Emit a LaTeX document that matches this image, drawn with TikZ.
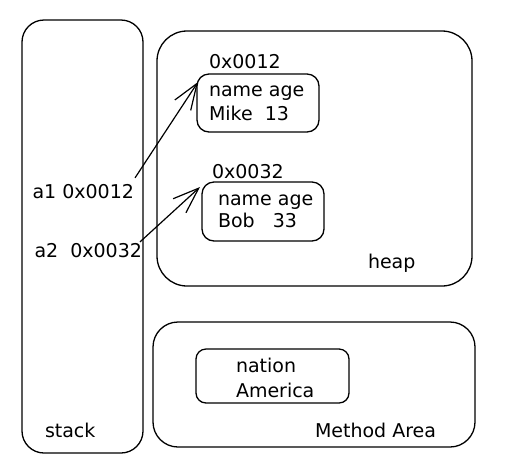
\documentclass[tikz,border=0pt]{standalone}
\usepackage{fontspec}
\setmainfont{DejaVu Sans}
\usetikzlibrary{arrows.meta}
\begin{document}
\begin{tikzpicture}[x=1pt,y=-1pt,
  regionbox/.style={draw, line width=1.3pt, inner sep=0pt, outer sep=0pt},
  txt/.style={inner sep=0pt, outer sep=0pt, font=\fontsize{19}{23}\selectfont},
  conn/.style={line width=1.2pt, -{Straight Barb[length=26pt,width=19pt,line width=1.2pt]}}]
\useasboundingbox (0,0) rectangle (505,467);
% regions
\node[regionbox, minimum width=121pt, minimum height=433pt, rounded corners=22pt] (stack) at (82.5,236.5) {};
\node[regionbox, minimum width=315pt, minimum height=255pt, rounded corners=30pt] (heap) at (314.5,158.5) {};
\node[regionbox, minimum width=322pt, minimum height=125pt, rounded corners=25pt] (method) at (314,384.5) {};
% objects
\node[regionbox, minimum width=122pt, minimum height=58pt, rounded corners=12pt] (obj1) at (258,103) {};
\node[regionbox, minimum width=122pt, minimum height=59pt, rounded corners=12pt] (obj2) at (263,211.5) {};
\node[regionbox, minimum width=153pt, minimum height=54pt, rounded corners=10pt] (nation) at (272.5,376) {};
% texts
\node[txt, anchor=base west] (h1) at (209,68) {0x0012};
\node[txt, anchor=base west] (o1a) at (209,96) {name age};
\node[txt, anchor=base west] (o1b) at (209,120) {Mike\ \ 13};
\node[txt, anchor=base west] (h2) at (212,178) {0x0032};
\node[txt, anchor=base west] (o2a) at (218,205) {name age};
\node[txt, anchor=base west] (o2b) at (218,227) {Bob\ \ \ 33};
\node[txt, anchor=base west] (heapl) at (368,268) {heap};
\node[txt, anchor=base east] (a1) at (134,198) {a1 0x0012};
\node[txt, anchor=base east] (a2) at (142,257) {a2\hspace{12pt}0x0032};
\node[txt, anchor=base west] (stackl) at (45,437) {stack};
\node[txt, anchor=base west] (methl) at (315,437) {Method Area};
\node[txt, anchor=base west] (nat1) at (236,372) {nation};
\node[txt, anchor=base west] (nat2) at (236,397) {America};
% connectors
\draw[conn] ([xshift=1pt,yshift=6pt]a1.north east) -- ([xshift=1pt,yshift=-8pt]obj1.north west);
\draw[conn] ([xshift=-2pt,yshift=1pt]a2.north east) -- ([xshift=-2pt,yshift=-5pt]obj2.north west);
\end{tikzpicture}
\end{document}
